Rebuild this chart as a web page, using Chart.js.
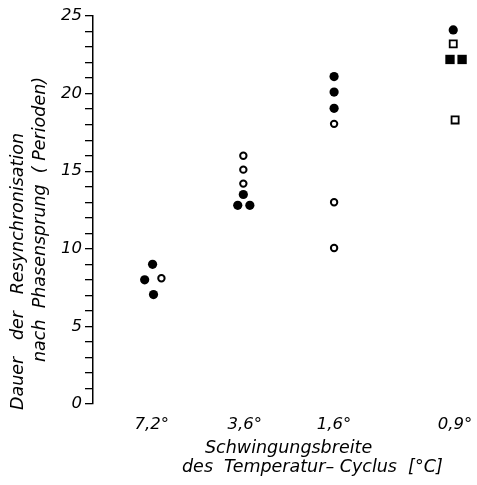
<!DOCTYPE html>
<html>
<head>
<meta charset="utf-8">
<script src="https://cdn.jsdelivr.net/npm/chart.js@4"></script>
<style>
    html, body { margin: 0; padding: 0; background: #fff; }
    #wrap { width: 477px; height: 485px; }
</style>
</head>
<body>
<div id="wrap"><canvas id="myChart"></canvas></div>
<script>
// Schwingungsbreite des Temperatur-Cyclus (categories) and where they sit on the x axis
const categories = ['7,2°', '3,6°', '1,6°', '0,9°'];
const categoryPos = [1, 2, 2.96, 4.26];

// Dauer der Resynchronisation (Perioden); cat = category index, shift = small sideways offset
const filledCircleCat = [0, 0, 0, 1, 1, 1, 2, 2, 2, 3];
const filledCircleShift = [0.01, -0.075, 0.02, -0.015, -0.075, 0.055, 0, 0, 0, -0.02];
const filledCircleVal = [9.0, 8.0, 7.05, 13.5, 12.8, 12.8, 21.1, 20.1, 19.05, 24.1];

const openCircleCat = [0, 1, 1, 1, 2, 2, 2];
const openCircleShift = [0.105, -0.015, -0.015, -0.015, 0, 0, 0];
const openCircleVal = [8.1, 16.0, 15.1, 14.2, 18.05, 13.0, 10.05];

const filledSquareCat = [3, 3];
const filledSquareShift = [-0.055, 0.075];
const filledSquareVal = [22.2, 22.2];

const openSquareCat = [3, 3];
const openSquareShift = [-0.02, 0];
const openSquareVal = [23.2, 18.3];

const yTicks = { min: 0, max: 25, step: 1, labelEvery: 5 };

function toPoints(cat, shift, val) {
    return val.map((v, i) => ({ x: categoryPos[cat[i]] + shift[i], y: v }));
}

const fontFamily = '"DejaVu Sans", sans-serif';

// axis titles, drawn line by line like in the original figure
const axisTitles = {
    id: 'axisTitles',
    afterDraw(chart) {
        const { ctx, chartArea } = chart;
        ctx.save();
        ctx.fillStyle = '#000';
        ctx.font = 'italic 17.5px ' + fontFamily;
        ctx.textBaseline = 'middle';
        ctx.textAlign = 'left';

        // y title (rotated)
        ctx.save();
        ctx.translate(chartArea.left - 75, chartArea.bottom + 6);
        ctx.rotate(-Math.PI / 2);
        ctx.fillText('Dauer   der   Resynchronisation', 0, 0);
        ctx.restore();

        ctx.save();
        ctx.translate(chartArea.left - 53, chartArea.bottom - 42);
        ctx.rotate(-Math.PI / 2);
        ctx.fillText('nach  Phasensprung  ( Perioden)', 0, 0);
        ctx.restore();

        // x title
        ctx.fillText('Schwingungsbreite', 205, chartArea.bottom + 44);
        ctx.fillText('des  Temperatur– Cyclus  [°C]', 182, chartArea.bottom + 63);
        ctx.restore();
    }
};

const ctx = document.getElementById('myChart').getContext('2d');

const myChart = new Chart(ctx, {
    type: 'scatter',
    data: {
        datasets: [
            {
                label: 'filled circles',
                data: toPoints(filledCircleCat, filledCircleShift, filledCircleVal),
                pointStyle: 'circle',
                pointRadius: 4.6,
                pointBorderWidth: 0,
                backgroundColor: '#000',
                borderColor: '#000'
            },
            {
                label: 'open circles',
                data: toPoints(openCircleCat, openCircleShift, openCircleVal),
                pointStyle: 'circle',
                pointRadius: 3.2,
                pointBorderWidth: 2,
                backgroundColor: '#fff',
                borderColor: '#000'
            },
            {
                label: 'filled squares',
                data: toPoints(filledSquareCat, filledSquareShift, filledSquareVal),
                pointStyle: 'rect',
                pointRadius: 6.6,
                pointBorderWidth: 0,
                backgroundColor: '#000',
                borderColor: '#000'
            },
            {
                label: 'open squares',
                data: toPoints(openSquareCat, openSquareShift, openSquareVal),
                pointStyle: 'rect',
                pointRadius: 5,
                pointBorderWidth: 1.8,
                backgroundColor: '#fff',
                borderColor: '#000'
            }
        ]
    },
    options: {
        responsive: true,
        maintainAspectRatio: false,
        animation: false,
        events: [],
        plugins: {
            legend: { display: false },
            tooltip: { enabled: false }
        },
        layout: {
            padding: { top: 16, right: 7, left: 0, bottom: 0 }
        },
        scales: {
            x: {
                type: 'linear',
                min: 0.37,
                max: 4.42,
                grid: { display: false },
                border: { display: false },
                afterBuildTicks: scale => {
                    scale.ticks = categoryPos.map(v => ({ value: v }));
                },
                afterFit: scale => {
                    scale.height = 81;
                    scale.paddingLeft = 0;
                    scale.paddingRight = 0;
                },
                ticks: {
                    autoSkip: false,
                    maxRotation: 0,
                    padding: 3,
                    color: '#000',
                    font: { family: fontFamily, style: 'italic', size: 16.5 },
                    callback: (value, index) => categories[index]
                }
            },
            y: {
                type: 'linear',
                min: yTicks.min,
                max: yTicks.max,
                afterFit: scale => {
                    scale.width = 93;
                    scale.paddingTop = 0;
                    scale.paddingBottom = 0;
                },
                grid: {
                    drawOnChartArea: false,
                    drawTicks: true,
                    tickLength: 8,
                    color: '#000',
                    lineWidth: 1.3
                },
                border: { display: true, color: '#000', width: 1.5 },
                ticks: {
                    stepSize: yTicks.step,
                    autoSkip: false,
                    padding: 3,
                    color: '#000',
                    font: { family: fontFamily, style: 'italic', size: 16.5 },
                    callback: v => (v % yTicks.labelEvery === 0 ? v : '')
                }
            }
        }
    },
    plugins: [axisTitles]
});
</script>
</body>
</html>
